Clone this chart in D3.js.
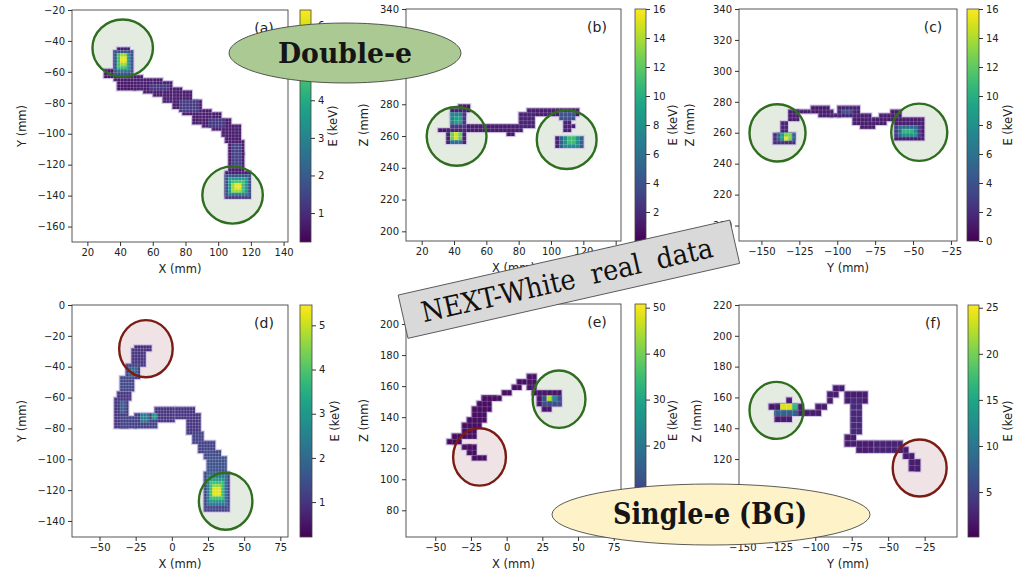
<!DOCTYPE html>
<html>
<head>
<meta charset="utf-8">
<script src="https://cdn.jsdelivr.net/npm/d3@7"></script>
<style>
  body { margin: 0; background: #fff; }
  svg { display: block; }
</style>
</head>
<body>
<svg id="fig" width="1023" height="572"></svg>
<script>
// voxel blocks: [x0, x1, y0, y1, E (keV)]
const trackA = [
  [37, 46.5, -46, -43.5, 0.7], [35.5, 48.6, -65.4, -46, 0.7], [29.4, 35, -64.3, -58.9, 0.6],
  [38, 49.2, -72.3, -64.3, 0.6], [48.2, 54.3, -71.2, -62.4, 0.7], [54.3, 60.4, -73.4, -63.4, 0.7],
  [60.4, 66.5, -76.2, -64.8, 0.7], [66.5, 72.7, -79.4, -66.9, 0.7], [72.7, 78.8, -83.3, -70.4, 0.7],
  [78.8, 83.9, -88.0, -73.0, 0.7], [83.9, 89.0, -93.4, -77.3, 0.7], [89.0, 95.1, -96.2, -83.8, 0.7],
  [95.1, 101.2, -98.8, -87.0, 0.7], [101.2, 107.3, -102.0, -90.3, 0.7], [104, 114.5, -107, -94, 0.7],
  [106.3, 116, -115.0, -104.2, 0.7], [105.3, 116.5, -125.8, -113, 0.7], [103.3, 120, -142.7, -124.8, 0.7],
  [58, 70, -73, -68, 1.2], [76, 88, -86, -79, 1.3], [93, 104, -96, -91, 1.2], [108, 113, -122, -106, 1.4],
  [35.5, 48, -63, -46, 1.3], [36, 47.5, -62, -47, 1.8], [37, 46.5, -60.5, -47.5, 2.8],
  [38, 45.5, -59, -48, 3.6], [38.5, 44.5, -58, -48.5, 4.6], [39.4, 43.7, -56.7, -49, 5.5], [40, 43, -55, -50, 6.2],
  [104, 119.5, -142, -125.5, 1.3], [104.5, 119, -141, -126.5, 1.8], [105.5, 118, -140, -128, 2.8],
  [106.5, 117, -139, -129, 3.6], [107.5, 116, -138.5, -130, 4.6], [108.4, 114.5, -137.7, -131.2, 5.5],
  [109.5, 113.5, -136.5, -132, 6.2]
];
const trackB = [
  [43.7, 48.9, 275.6, 279.1, 0.8], [38.6, 46.8, 273.5, 276.6, 1.5], [37.5, 46.8, 266.1, 275.6, 2.5],
  [29.3, 38.6, 263.6, 266.1, 1.0], [34.4, 46.8, 254.6, 264.0, 1.5], [46.8, 81.9, 263.0, 267.2, 1.2],
  [73.6, 76.7, 259.8, 263.0, 1.0], [80.8, 91.1, 266.1, 274.5, 1.5], [86.0, 117.9, 272.4, 277.0, 1.3],
  [105.6, 113.8, 270.3, 274.5, 4], [106.6, 112, 261.9, 270.3, 1.5], [112, 116, 264, 267, 1.2],
  [103.5, 121.0, 252.5, 260.9, 1.5], [38.6, 45.8, 267, 274.5, 7], [39.5, 44.5, 268.5, 273, 9],
  [36.5, 45.8, 255.6, 263.0, 6], [37.5, 45, 256.5, 262.5, 9], [38.6, 44.7, 257.7, 262.0, 12.5],
  [39.5, 43.5, 258.5, 261.5, 15], [105.5, 119.5, 253, 260, 5], [107.6, 117.9, 253.5, 259.8, 8],
  [109.7, 115.8, 254.6, 258.8, 11]
];
const trackC = [
  [-138.3, -131.6, 259.9, 268.5, 1.5], [-131.6, -125.0, 267.4, 275.0, 1.2], [-142.0, -127.2, 253.4, 261.0, 2],
  [-140, -128, 254, 260.5, 5], [-137.2, -129.4, 254.5, 259.9, 9], [-136.1, -130.5, 255.1, 258.8, 13],
  [-135, -131.5, 255.5, 258, 15.5], [-127.2, -118.4, 271.7, 276.0, 1.2],
  [-118.4, -105.1, 272.8, 277.5, 1.0], [-111.7, -102.9, 270.6, 276.0, 1.3], [-104.0, -98.5, 269.6, 272.8, 1.5],
  [-100.7, -85.2, 270.6, 277.5, 1.5], [-98.5, -89.6, 271.7, 275.0, 4], [-89.6, -78.6, 265.3, 271.7, 1.2],
  [-84.1, -74.2, 262.0, 268.5, 1.2], [-77.5, -66.4, 265.3, 269.6, 1.3], [-72.0, -63.1, 267.4, 271.7, 1.2],
  [-65.3, -58.7, 268.5, 273.9, 1.0], [-63.1, -43.2, 255.6, 269.6, 1.2], [-62.0, -45.4, 256.6, 266, 3],
  [-60, -46.5, 257, 264, 5.5], [-58.7, -47.6, 257.7, 262.0, 8], [-56.5, -49.9, 258.8, 261.0, 10.5]
];
const trackD = [
  [-25.9, -13.3, -30.5, -26.1, 0.8], [-27.1, -19.0, -40.2, -28.3, 1.0], [-31.7, -22.5, -48.8, -38.0, 1.2],
  [-35.1, -26.0, -55.3, -46.7, 1.3], [-37.4, -28.2, -61.8, -55.3, 1.0], [-39.7, -29.4, -79.1, -60.7, 1.0],
  [-36.2, -23.6, -79.1, -72.6, 1.2], [-30, -25, -47, -40, 1.9], [-37, -32, -70, -62, 1.7],
  [-25.9, -9.9, -79.1, -69.3, 1.2], [-23, -17, -76, -71, 2.4], [-15, -10, -75, -71, 2.9],
  [-12.2, 1.6, -75.8, -66.1, 1.0], [1.6, 15.4, -74.7, -66.1, 1.0], [10.8, 20.0, -83.4, -70.4, 1.0],
  [14.2, 22.6, -89.9, -81.2, 1.2], [17.7, 29.1, -96.3, -87.7, 1.2], [22.2, 33.7, -100.7, -94.2, 1.3],
  [23.4, 38.3, -113.6, -98.5, 1.5], [22.2, 39.4, -133.1, -107.2, 1.2], [23.4, 38.3, -131, -109, 1.7],
  [24.5, 37.2, -129.5, -111, 2.3], [25.5, 36.5, -128, -113, 3.0], [26.5, 35.5, -126.5, -114.5, 3.8],
  [27.5, 34.5, -125, -116, 4.5], [28.5, 33.5, -123.5, -117.5, 5.2]
];
const trackE = [
  [-40.7, -34.8, 123.0, 126.2, 1.5], [-37.2, -30.2, 124.1, 129.5, 1.5], [-30.2, -20.9, 126.2, 135.9, 2],
  [-27.9, -18.5, 131.6, 141.3, 2], [-24.4, -15.0, 137.0, 145.6, 2], [-20.9, -11.5, 142.4, 151.0, 2],
  [-17.4, -6.9, 148.8, 154.2, 2], [-16.2, -4.5, 151.0, 154.8, 2], [-4.5, 4.8, 153.1, 157.8, 2],
  [2.4, 11.8, 156.3, 160.6, 2], [8.3, 14.1, 159.6, 163.9, 2], [14.1, 21.1, 157.4, 167.1, 2.5],
  [18.8, 23.4, 154.2, 157.8, 2], [-31.4, -23.2, 118.7, 124.1, 2], [-26.7, -20.9, 116.1, 120.9, 2],
  [-24.4, -15.0, 113.3, 116.1, 2], [22.3, 39.7, 147.7, 156.3, 3], [23.4, 32.8, 144.5, 148.8, 3],
  [25, 37, 148, 155, 12], [26.9, 35.1, 148.8, 154.2, 25], [28.1, 32.8, 151.0, 154.2, 45]
];
const trackF = [
  [-131.7, -124.3, 152.0, 154.2, 1.5], [-128.9, -108.3, 148.4, 154.8, 2], [-127.8, -117.4, 144.7, 148.4, 2],
  [-122.0, -116.3, 154.8, 156.4, 2], [-126.6, -110.6, 148.4, 151.6, 8], [-124.3, -114.0, 151.2, 154.6, 17],
  [-123.2, -116.3, 152.0, 154.6, 24], [-109.4, -96.8, 149.4, 153.8, 2], [-99.1, -92.2, 151.6, 156.4, 2],
  [-93.3, -87.6, 155.9, 160.3, 2], [-92.2, -85.3, 158.1, 164.6, 2], [-86.5, -78.4, 163.5, 167.8, 2],
  [-79.6, -65.8, 157.0, 163.5, 2], [-76.1, -67.0, 151.6, 158.1, 3], [-77.3, -68.1, 142.9, 151.6, 3],
  [-76.1, -69.3, 134.3, 144.0, 3], [-80.7, -71.6, 126.7, 132.1, 2], [-79.6, -70.4, 130.0, 134.3, 2],
  [-73.9, -61.2, 125.6, 130.0, 2], [-68.1, -62.4, 122.4, 125.6, 2], [-60.1, -40.6, 125.6, 130.0, 2.5],
  [-44.0, -34.9, 122.4, 127.8, 2], [-39.4, -31.4, 118.1, 123.5, 2], [-34.9, -26.8, 113.7, 120.2, 2],
  [-31.4, -26.8, 113.7, 118.1, 2]
];

// blob circles: [centre x, centre y, kind]  g = blob, r = no blob
const circleR = 18.5;
const circlesA = [[41.6, -44.6, 'g'], [108.8, -139.6, 'g']];
const circlesB = [[41.6, 259.8, 'g'], [109.7, 257.7, 'g']];
const circlesC = [[-139.4, 259.9, 'g'], [-45.9, 260.3, 'g']];
const circlesD = [[-17.9, -28.3, 'r'], [37.2, -127.2, 'g']];
const circlesE = [[-19.0, 114.4, 'r'], [36.7, 151.6, 'g']];
const circlesF = [[-126.6, 151.6, 'g'], [-28.4, 114.2, 'r']];

// ticks
const xTicksAB = [20, 40, 60, 80, 100, 120, 140];
const yTicksA = [-160, -140, -120, -100, -80, -60, -40, -20];
const zTicksBC = [200, 220, 240, 260, 280, 300, 320, 340];
const yTicksCF = [-150, -125, -100, -75, -50, -25];
const xTicksDE = [-50, -25, 0, 25, 50, 75];
const yTicksD = [-140, -120, -100, -80, -60, -40, -20, 0];
const zTicksE = [80, 100, 120, 140, 160, 180, 200];
const zTicksF = [80, 100, 120, 140, 160, 180, 200, 220];
const eTicksA = [1, 2, 3, 4, 5, 6];
const eTicksBC = [0, 2, 4, 6, 8, 10, 12, 14, 16];
const eTicksD = [1, 2, 3, 4, 5];
const eTicksE = [10, 20, 30, 40, 50];
const eTicksF = [5, 10, 15, 20, 25];

const panels = [
  { id: 'a', box: [72, 10, 288, 242], xDom: [10.6, 142.7], yDom: [-170, -20], xTicks: xTicksAB, yTicks: yTicksA,
    xLab: 'X (mm)', yLab: 'Y (mm)', yOff: 46, cbar: [300, 311], cOff: 26, cDom: [0.23, 6.4], cTicks: eTicksA,
    vox: 2, track: trackA, circles: circlesA },
  { id: 'b', box: [406, 9, 621, 241], xDom: [10.3, 143.3], yDom: [193.9, 340], xTicks: xTicksAB, yTicks: zTicksBC,
    xLab: 'X (mm)', yLab: 'Z (mm)', yOff: 38, cbar: [635, 646], cOff: 31, cDom: [0, 16], cTicks: eTicksBC,
    vox: 2.5, track: trackB, circles: circlesB },
  { id: 'c', box: [739, 9, 957, 241], xDom: [-164.8, -21], yDom: [190, 340], xTicks: yTicksCF, yTicks: zTicksBC,
    xLab: 'Y (mm)', yLab: 'Z (mm)', yOff: 45, cbar: [967, 979], cOff: 33, cDom: [0, 16], cTicks: eTicksBC,
    vox: 2.5, track: trackC, circles: circlesC },
  { id: 'd', box: [72, 305, 288, 537], xDom: [-69, 80.3], yDom: [-150.4, 0], xTicks: xTicksDE, yTicks: yTicksD,
    xLab: 'X (mm)', yLab: 'Y (mm)', yOff: 46, cbar: [300, 312], cOff: 27, cDom: [0.21, 5.46], cTicks: eTicksD,
    vox: 2, track: trackD, circles: circlesD },
  { id: 'e', box: [406, 304, 621, 537], xDom: [-70.5, 80.1], yDom: [62.8, 212.9], xTicks: xTicksDE, yTicks: zTicksE,
    xLab: 'X (mm)', yLab: 'Z (mm)', yOff: 38, cbar: [635, 646], cOff: 31, cDom: [0.1, 50.8], cTicks: eTicksE,
    vox: 3.5, track: trackE, circles: circlesE },
  { id: 'f', box: [739, 305, 957, 537], xDom: [-152.3, -2.8], yDom: [69.4, 220], xTicks: yTicksCF, yTicks: zTicksF,
    xLab: 'Y (mm)', yLab: 'Z (mm)', yOff: 38, cbar: [968, 979], cOff: 33, cDom: [0.12, 25.3], cTicks: eTicksF,
    vox: 4, track: trackF, circles: circlesF }
];

const svg = d3.select('#fig');
const defs = svg.append('defs');
const SANS = 'DejaVu Sans, sans-serif';
const SERIF = 'DejaVu Serif, serif';

const grad = defs.append('linearGradient').attr('id', 'viridis')
  .attr('x1', 0).attr('y1', 1).attr('x2', 0).attr('y2', 0);
d3.range(0, 1.0001, 0.05).forEach(t => {
  grad.append('stop').attr('offset', t).attr('stop-color', d3.interpolateViridis(t));
});

function styleAxis(a) {
  a.select('.domain').remove();
  a.selectAll('.tick line').attr('stroke', '#333');
  a.selectAll('.tick text').attr('fill', '#222');
  a.attr('font-family', SANS).attr('font-size', 10);
}

function drawPanel(p) {
  const [x0, y0, x1, y1] = p.box;
  const x = d3.scaleLinear().domain(p.xDom).range([x0, x1]);
  const y = d3.scaleLinear().domain(p.yDom).range([y1, y0]);
  const color = d3.scaleSequential(d3.interpolateViridis).domain(p.cDom).clamp(true);
  const g = svg.append('g');

  // circle fills under the track
  const rx = x(circleR) - x(0), ry = y(0) - y(circleR);
  g.selectAll('.cfill').data(p.circles).join('ellipse')
    .attr('cx', d => x(d[0])).attr('cy', d => y(d[1]))
    .attr('rx', rx).attr('ry', ry)
    .attr('fill', d => d[2] === 'g' ? '#e4ece2' : '#efe3e6');

  // snap blocks to the voxel grid
  const v = p.vox;
  const snap = d => {
    const a = Math.round(d[0] / v) * v, c = Math.round(d[2] / v) * v;
    return [a, Math.max(Math.round(d[1] / v) * v, a + v), c, Math.max(Math.round(d[3] / v) * v, c + v), d[4]];
  };
  const blocks = d3.sort(p.track.map(snap), d => d[4]);
  const put = sel => sel
    .attr('x', d => x(d[0])).attr('width', d => x(d[1]) - x(d[0]))
    .attr('y', d => y(d[3])).attr('height', d => y(d[2]) - y(d[3]));

  // soft lavender fringe like the blurred original
  g.append('g').selectAll('rect').data(blocks).join('rect').call(put)
    .attr('fill', '#d4c9e6').attr('stroke', '#d4c9e6').attr('stroke-width', 2.2);
  g.append('g').selectAll('rect').data(blocks).join('rect').call(put)
    .attr('fill', d => color(d[4]));

  // voxel grid lines, only over the track
  const pw = x(v) - x(0), ph = y(0) - y(v);
  defs.append('pattern').attr('id', 'grid' + p.id).attr('patternUnits', 'userSpaceOnUse')
    .attr('width', pw).attr('height', ph)
    .attr('patternTransform', `translate(${x(0)},${y(0)})`)
    .append('path').attr('d', `M0,0.3H${pw}M0.3,0V${ph}`)
    .attr('stroke', '#fff').attr('stroke-opacity', 0.3).attr('stroke-width', 0.7).attr('fill', 'none');
  defs.append('clipPath').attr('id', 'clip' + p.id)
    .selectAll('rect').data(blocks).join('rect').call(put);
  g.append('rect').attr('x', x0).attr('y', y0).attr('width', x1 - x0).attr('height', y1 - y0)
    .attr('fill', `url(#grid${p.id})`).attr('clip-path', `url(#clip${p.id})`);

  // circle outlines
  g.selectAll('.cline').data(p.circles).join('ellipse')
    .attr('cx', d => x(d[0])).attr('cy', d => y(d[1]))
    .attr('rx', rx).attr('ry', ry)
    .attr('fill', 'none').attr('stroke-width', 2.4)
    .attr('stroke', d => d[2] === 'g' ? '#2f6d1f' : '#7a1c14');

  // frame + axes
  g.append('rect').attr('x', x0).attr('y', y0).attr('width', x1 - x0).attr('height', y1 - y0)
    .attr('fill', 'none').attr('stroke', '#444').attr('stroke-width', 0.9);
  g.append('g').attr('transform', `translate(0,${y1})`)
    .call(d3.axisBottom(x).tickValues(p.xTicks).tickSize(4).tickPadding(3)).call(styleAxis);
  g.append('g').attr('transform', `translate(${x0},0)`)
    .call(d3.axisLeft(y).tickValues(p.yTicks).tickSize(4).tickPadding(3)).call(styleAxis);

  g.append('text').attr('x', (x0 + x1) / 2).attr('y', y1 + 31)
    .attr('text-anchor', 'middle').attr('font-family', SANS).attr('font-size', 11.5).attr('fill', '#222')
    .text(p.xLab);
  g.append('text').attr('transform', `translate(${x0 - p.yOff},${(y0 + y1) / 2}) rotate(-90)`)
    .attr('text-anchor', 'middle').attr('font-family', SANS).attr('font-size', 11.5).attr('fill', '#222')
    .text(p.yLab);
  g.append('text').attr('x', x1 - 24).attr('y', y0 + 23)
    .attr('text-anchor', 'middle').attr('font-family', SANS).attr('font-size', 14).attr('fill', '#222')
    .text(`(${p.id})`);

  // colour bar
  const [c0, c1] = p.cbar;
  const cy = d3.scaleLinear().domain(p.cDom).range([y1, y0]);
  g.append('rect').attr('x', c0).attr('y', y0).attr('width', c1 - c0).attr('height', y1 - y0)
    .attr('fill', 'url(#viridis)').attr('stroke', '#444').attr('stroke-width', 0.8);
  g.append('g').attr('transform', `translate(${c1},0)`)
    .call(d3.axisRight(cy).tickValues(p.cTicks).tickFormat(d3.format('d')).tickSize(4).tickPadding(3))
    .call(styleAxis);
  g.append('text').attr('transform', `translate(${c1 + p.cOff},${(y0 + y1) / 2}) rotate(-90)`)
    .attr('text-anchor', 'middle').attr('font-family', SANS).attr('font-size', 11.5).attr('fill', '#222')
    .text('E (keV)');
}

panels.forEach(drawPanel);

// overlay labels
const ov = svg.append('g');
ov.append('ellipse').attr('cx', 345).attr('cy', 53).attr('rx', 116).attr('ry', 30)
  .attr('fill', '#abc993').attr('stroke', '#333').attr('stroke-width', 0.8);
ov.append('text').attr('x', 345).attr('y', 63).attr('text-anchor', 'middle')
  .attr('font-family', SERIF).attr('font-weight', 'bold').attr('font-size', 28).attr('fill', '#151515')
  .attr('textLength', 134).attr('lengthAdjust', 'spacingAndGlyphs')
  .text('Double-e');

ov.append('ellipse').attr('cx', 711).attr('cy', 514.5).attr('rx', 159).attr('ry', 30.5)
  .attr('fill', '#fdf2c8').attr('stroke', '#333').attr('stroke-width', 0.8);
ov.append('text').attr('x', 710).attr('y', 524).attr('text-anchor', 'middle')
  .attr('font-family', SERIF).attr('font-weight', 'bold').attr('font-size', 30).attr('fill', '#151515')
  .attr('textLength', 194).attr('lengthAdjust', 'spacingAndGlyphs')
  .text('Single-e (BG)');

const box = ov.append('g').attr('transform', 'translate(568.9,279.2) rotate(-12.74)');
box.append('rect').attr('x', -170).attr('y', -22.2).attr('width', 340).attr('height', 44.4)
  .attr('fill', '#d9d9d9').attr('stroke', '#444').attr('stroke-width', 0.8);
box.append('text').attr('x', -2).attr('y', 10).attr('text-anchor', 'middle')
  .attr('font-family', SERIF).attr('font-size', 28).attr('fill', '#111')
  .attr('textLength', 298).attr('lengthAdjust', 'spacingAndGlyphs')
  .attr('style', 'white-space:pre')
  .text('NEXT-White  real  data');
</script>
</body>
</html>
